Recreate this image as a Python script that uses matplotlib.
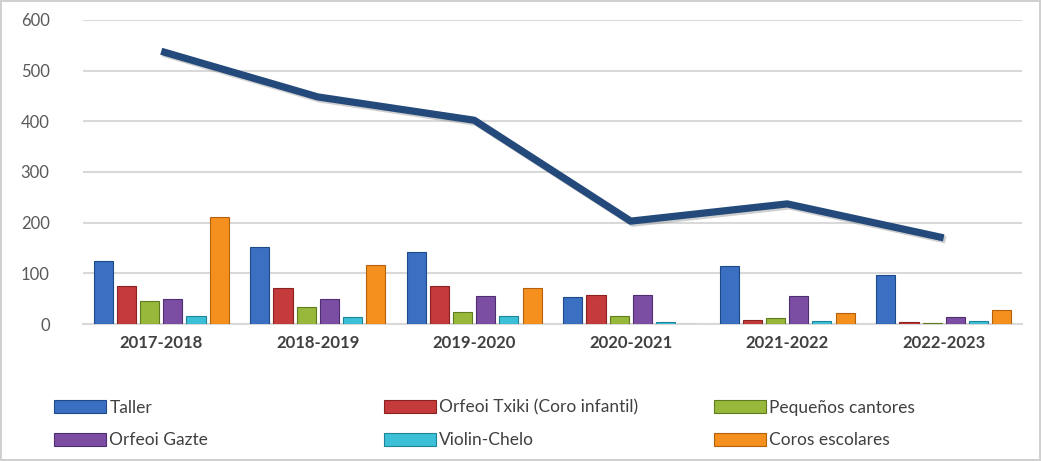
import matplotlib
matplotlib.use("Agg")
import matplotlib.pyplot as plt
import matplotlib.patheffects as pe
from matplotlib import font_manager
import numpy as np

categories = ["2017-2018", "2018-2019", "2019-2020", "2020-2021", "2021-2022", "2022-2023"]
taller = [124, 152, 143, 54, 114, 96]
orfeoi_txiki = [75, 71, 75, 57, 8, 5]
pequenos = [46, 33, 24, 16, 12, 3]
orfeoi_gazte = [50, 49, 56, 57, 55, 14]
violin_chelo = [16, 13, 16, 5, 6, 7]
coros_escolares = [212, 116, 72, 0, 22, 28]
total = [538, 448, 402, 203, 237, 170]

series_names = ["Taller", "Orfeoi Txiki (Coro infantil)", "Pequeños cantores",
                "Orfeoi Gazte", "Violin-Chelo", "Coros escolares"]
series_vals = [taller, orfeoi_txiki, pequenos, orfeoi_gazte, violin_chelo, coros_escolares]
colors = ["#3a6fc2", "#c53a3a", "#97b83a", "#7b4ea3", "#3cc0d8", "#f5901f"]
edges = ["#1f4a8a", "#8a2222", "#5f7d1e", "#4e2d70", "#1e8499", "#b5600c"]

names = [f.name for f in font_manager.fontManager.ttflist]
fam = "Lato" if "Lato" in names else "DejaVu Sans"
plt.rcParams["font.family"] = [fam, "DejaVu Sans"]

fig = plt.figure(figsize=(10.41, 4.61), dpi=100)
fig.patch.set_edgecolor("#d0d0d0")
fig.patch.set_linewidth(1.5)
ax = fig.add_axes([0.0797, 0.297, 0.902, 0.66])

x = np.arange(len(categories))
slot = 0.148
bw = 0.122
handles = []
for i, (vals, c, ec) in enumerate(zip(series_vals, colors, edges)):
    off = (i - 2.5) * slot
    b = ax.bar(x + off, vals, width=bw, color=c, edgecolor=ec, linewidth=0.8, zorder=3,
               label=series_names[i])
    handles.append(b)

ax.plot(x, total, color="#234a7a", linewidth=5.2, zorder=4, solid_capstyle="butt",
        path_effects=[pe.SimpleLineShadow(offset=(1.5, -1.5), shadow_color="#888888", alpha=0.4),
                      pe.Normal()])

ax.set_xlim(-0.5, len(categories) - 0.5)
ax.set_ylim(0, 600)
ax.set_yticks([0, 100, 200, 300, 400, 500, 600])
ax.yaxis.grid(True, color="#d9d9d9", linewidth=1.5, zorder=0)
ax.set_axisbelow(True)
for s in ["top", "right", "left"]:
    ax.spines[s].set_visible(False)
ax.spines["bottom"].set_color("#d9d9d9")
ax.spines["bottom"].set_linewidth(1.5)
ax.tick_params(axis="both", length=0)
ax.tick_params(axis="y", labelsize=12, labelcolor="#595959", pad=24)
ax.tick_params(axis="x", labelsize=12, labelcolor="#404040", pad=8)
ax.set_xticks(x)
ax.set_xticklabels(categories, fontweight="bold")

cols = [(0, 3), (1, 4), (2, 5)]
xpos = [0.045, 0.362, 0.679]
for (a, b), xp in zip(cols, xpos):
    leg = fig.legend([handles[a], handles[b]], [series_names[a], series_names[b]],
                     loc="upper left", bbox_to_anchor=(xp, 0.148), ncol=1, frameon=False,
                     fontsize=12.5, handlelength=3.0, handleheight=0.8, handletextpad=0.2,
                     labelspacing=0.95, borderaxespad=0, labelcolor="#404040")

fig.savefig("out.png", dpi=100)
